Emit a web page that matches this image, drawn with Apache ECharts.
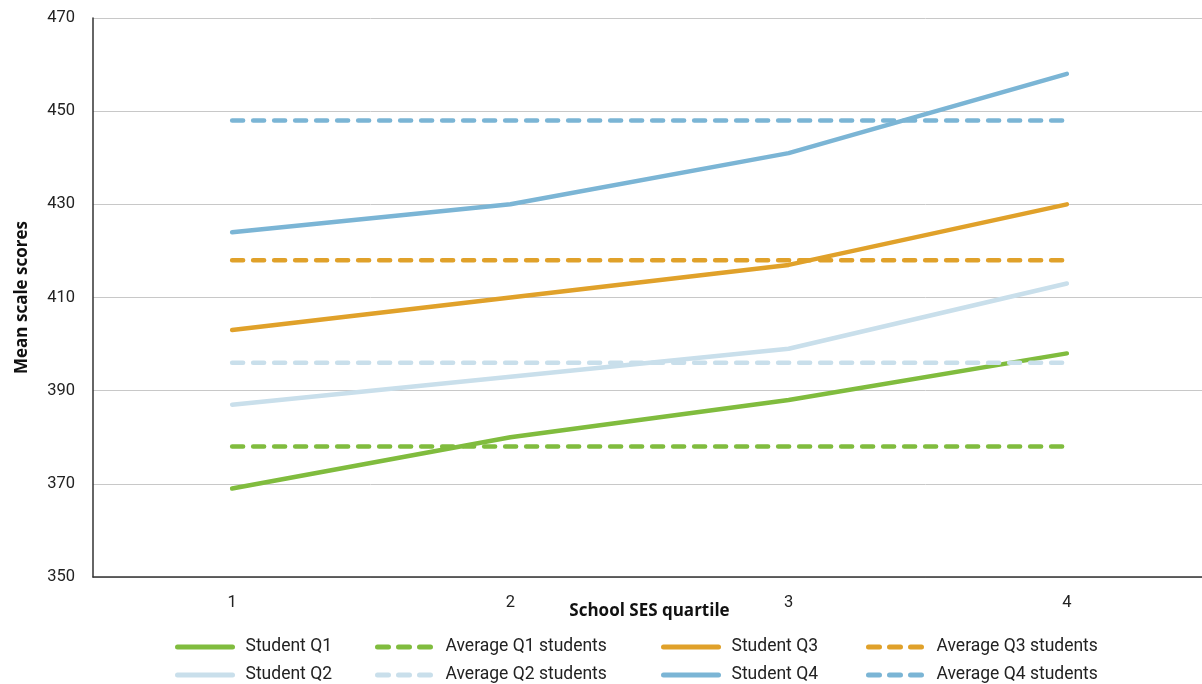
<!DOCTYPE html>
<html><head><meta charset="utf-8">
<script src="https://cdn.jsdelivr.net/npm/echarts@6/dist/echarts.min.js"></script>
<style>html,body{margin:0;padding:0;background:#fff}#c{width:1202px;height:684px}</style>
</head><body><div id="c"></div>
<script>
const categories = ['1','2','3','4'];
const studentQ1 = [369, 380, 388, 398];
const studentQ2 = [387, 393, 399, 413];
const studentQ3 = [403, 410, 417, 430];
const studentQ4 = [424, 430, 441, 458];
const avgQ1 = [378, 378, 378, 378];
const avgQ2 = [396, 396, 396, 396];
const avgQ3 = [418, 418, 418, 418];
const avgQ4 = [448, 448, 448, 448];
const yMin = 350, yMax = 470, yStep = 20;

const C = {g:'#80bc3e', lb:'#c9dfeb', o:'#e0a12a', b:'#7bb5d5'};
const font = 'Roboto, "DejaVu Sans", sans-serif';
const boldFont = '"Open Sans", Roboto, sans-serif';

function mk(name, data, color, dashed){
  return {name, type:'line', data, symbol:'none', showSymbol:false, silent:true,
    lineStyle:{color, width:4.5, cap:'round', join:'round', type: dashed ? [11,10] : 'solid'},
    itemStyle:{color}};
}
const series = [
  mk('Student Q1', studentQ1, C.g, false),
  mk('Average Q1 students', avgQ1, C.g, true),
  mk('Student Q2', studentQ2, C.lb, false),
  mk('Average Q2 students', avgQ2, C.lb, true),
  mk('Student Q3', studentQ3, C.o, false),
  mk('Average Q3 students', avgQ3, C.o, true),
  mk('Student Q4', studentQ4, C.b, false),
  mk('Average Q4 students', avgQ4, C.b, true)
];
const legendCols = [175, 375, 661, 866];
const legendRows = [638, 666];
const legendLayout = [
  ['Student Q1', 0, 0], ['Average Q1 students', 1, 0], ['Student Q3', 2, 0], ['Average Q3 students', 3, 0],
  ['Student Q2', 0, 1], ['Average Q2 students', 1, 1], ['Student Q4', 2, 1], ['Average Q4 students', 3, 1]
];
const legends = legendLayout.map(([n, c, r]) => ({
  left: legendCols[c], top: legendRows[r], orient:'horizontal', padding:0,
  itemWidth:55, itemHeight:16, data:[n],
  itemStyle:{opacity:0},
  lineStyle:{width:5, cap:'round'},
  textStyle:{fontFamily:font, fontSize:17.5, color:'#222', padding:[0,0,0,8]}
}));
const chart = echarts.init(document.getElementById('c'), null, {renderer:'canvas'});
chart.setOption({
  animation:false,
  grid:{left:93, width:1113, top:18, bottom:107, containLabel:false, outerBoundsMode:'none'},
  legend: legends,
  xAxis:{type:'category', data:categories, boundaryGap:true,
    name:'School SES quartile', nameLocation:'middle', nameGap:26, nameMoveOverlap:false,
    nameTextStyle:{fontFamily:boldFont, fontSize:17, fontWeight:'bold', color:'#111'},
    axisLine:{lineStyle:{color:'#333', width:1.5}}, axisTick:{show:false},
    axisLabel:{fontFamily:font, fontSize:16.5, color:'#222', margin:17}},
  yAxis:{type:'value', min:yMin, max:yMax, interval:yStep,
    name:'Mean scale scores', nameLocation:'middle', nameGap:62, nameMoveOverlap:false,
    nameTextStyle:{fontFamily:boldFont, fontSize:17, fontWeight:'bold', color:'#111'},
    axisLine:{show:true, lineStyle:{color:'#333', width:1.5}}, axisTick:{show:false},
    axisLabel:{fontFamily:font, fontSize:16.5, color:'#222', margin:18},
    splitLine:{lineStyle:{color:'#c8c8c8', width:1}}},
  series
});
</script></body></html>
